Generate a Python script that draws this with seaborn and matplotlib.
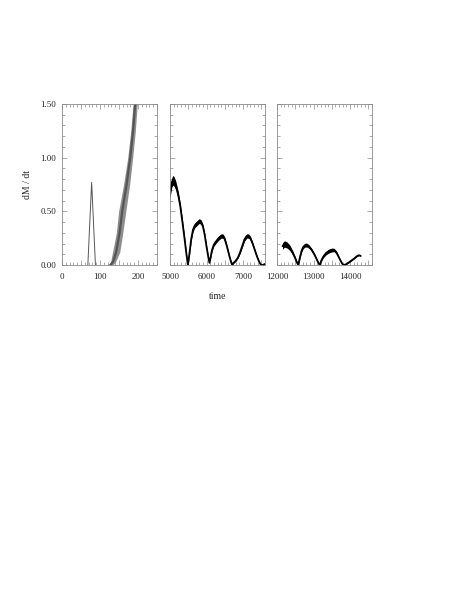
import matplotlib
matplotlib.use("Agg")
import matplotlib.pyplot as plt
from matplotlib.ticker import MultipleLocator, FuncFormatter
import seaborn as sns
import numpy as np

# panel 1: early spike and the steep rise (gray ensemble band)
spike_x = [68, 78, 88]
spike_y = [0.0, 0.77, 0.0]
rise_y = [0.0, 0.03, 0.12, 0.30, 0.50, 0.75, 1.00, 1.25, 1.50, 1.65]
rise_left = [121, 128, 133, 143, 149, 162, 173, 181, 187, 191]
rise_right = [134, 141, 152, 160, 168, 178, 186, 193, 198, 201]

# panel 2: 5000-7600
x2 = [5000, 5020, 5050, 5080, 5110, 5160, 5220, 5280, 5340, 5400, 5450, 5490,
      5530, 5580, 5630, 5680, 5740, 5800, 5850, 5900, 5950, 6000, 6050, 6080,
      6110, 6150, 6200, 6260, 6330, 6400, 6450, 6500, 6560, 6620, 6670, 6700,
      6740, 6800, 6860, 6920, 6980, 7040, 7100, 7150, 7200, 7260, 7320, 7380,
      7440, 7490, 7540, 7600]
y2 = [0.64, 0.72, 0.77, 0.79, 0.78, 0.74, 0.66, 0.55, 0.40, 0.24, 0.10, 0.0,
      0.10, 0.24, 0.33, 0.37, 0.39, 0.41, 0.40, 0.36, 0.28, 0.17, 0.07, 0.02,
      0.07, 0.14, 0.19, 0.22, 0.25, 0.27, 0.27, 0.24, 0.17, 0.09, 0.03, 0.0,
      0.02, 0.04, 0.07, 0.12, 0.18, 0.24, 0.27, 0.27, 0.25, 0.20, 0.14, 0.08,
      0.03, 0.0, 0.0, 0.01]
hw2 = [0.04, 0.045, 0.045, 0.045, 0.045, 0.04, 0.035, 0.03, 0.025, 0.02, 0.012, 0.008,
       0.012, 0.016, 0.02, 0.022, 0.022, 0.022, 0.022, 0.02, 0.018, 0.015, 0.01, 0.006,
       0.01, 0.014, 0.016, 0.018, 0.02, 0.02, 0.02, 0.018, 0.015, 0.01, 0.006, 0.004,
       0.005, 0.006, 0.008, 0.012, 0.015, 0.018, 0.02, 0.02, 0.018, 0.015, 0.012, 0.008,
       0.005, 0.004, 0.004, 0.004]

# panel 3: 12000-14600
x3 = [12150, 12180, 12220, 12280, 12350, 12420, 12490, 12550, 12580, 12620,
      12670, 12720, 12770, 12820, 12880, 12950, 13020, 13090, 13140, 13170,
      13210, 13270, 13340, 13420, 13500, 13560, 13620, 13680, 13740, 13790,
      13820, 13880, 13950, 14030, 14110, 14180, 14230, 14260, 14290]
y3 = [0.175, 0.19, 0.195, 0.185, 0.16, 0.12, 0.07, 0.02, 0.0, 0.06,
      0.13, 0.17, 0.185, 0.185, 0.17, 0.14, 0.10, 0.05, 0.015, 0.0,
      0.04, 0.08, 0.11, 0.13, 0.14, 0.14, 0.12, 0.08, 0.04, 0.01,
      0.0, 0.005, 0.02, 0.04, 0.06, 0.08, 0.09, 0.09, 0.085]
hw3 = [0.03, 0.03, 0.03, 0.028, 0.025, 0.02, 0.014, 0.008, 0.005, 0.01,
       0.014, 0.016, 0.018, 0.018, 0.016, 0.014, 0.012, 0.008, 0.006, 0.005,
       0.008, 0.012, 0.016, 0.018, 0.018, 0.016, 0.014, 0.01, 0.007, 0.005,
       0.004, 0.004, 0.004, 0.004, 0.004, 0.004, 0.004, 0.004, 0.004]

xlims = [(0, 250), (5000, 7600), (12000, 14600)]
xmajor = [50, 500, 500]
xminor = [10, 100, 100]
xlabel_step = [100, 1000, 1000]

sns.set_style("ticks")
plt.rcParams["font.family"] = ["Liberation Serif", "DejaVu Serif"]

fig = plt.figure(figsize=(4.57, 5.91), dpi=100)
W, H = 457.0, 591.0
lefts = [62, 170, 277]
axes = [fig.add_axes([l / W, 1 - 265 / H, 95 / W, 161 / H]) for l in lefts]

frame = "#8a8a8a"
for i, ax in enumerate(axes):
    ax.set_xlim(*xlims[i])
    ax.set_ylim(0, 1.5)
    ax.xaxis.set_major_locator(MultipleLocator(xmajor[i]))
    ax.xaxis.set_minor_locator(MultipleLocator(xminor[i]))
    ax.yaxis.set_major_locator(MultipleLocator(0.5))
    ax.yaxis.set_minor_locator(MultipleLocator(0.1))
    step = xlabel_step[i]
    ax.xaxis.set_major_formatter(FuncFormatter(
        lambda v, p, s=step: f"{v:.0f}" if abs(v / s - round(v / s)) < 1e-6 else ""))
    ax.yaxis.set_major_formatter(FuncFormatter(lambda v, p: f"{v:.2f}"))
    ax.tick_params(which="both", direction="in", top=True, right=True,
                   color=frame, width=0.5, labelsize=6.5)
    ax.tick_params(which="major", length=3.5)
    ax.tick_params(which="minor", length=2)
    ax.tick_params(axis="x", pad=5.5)
    ax.tick_params(axis="y", pad=4)
    for sp in ax.spines.values():
        sp.set_color(frame)
        sp.set_linewidth(0.6)
    if i > 0:
        ax.set_yticklabels([])

ax1, ax2, ax3 = axes

sns.lineplot(x=spike_x, y=spike_y, ax=ax1, color="#555555", lw=0.7, sort=False)
ax1.fill_betweenx(rise_y, rise_left, rise_right, color="#8e8e8e", lw=0)
rise_mid = (np.array(rise_left) + np.array(rise_right)) / 2
sns.lineplot(x=rise_mid, y=rise_y, ax=ax1, color="#555555", lw=1.6, sort=False)

for ax, xs, ys, hw in [(ax2, x2, y2, hw2), (ax3, x3, y3, hw3)]:
    xs_a = np.array(xs)
    ys_a = np.array(ys)
    hw_a = np.array(hw)
    ax.fill_between(xs_a, ys_a - hw_a, ys_a + hw_a, color="black", lw=0)
    sns.lineplot(x=xs, y=ys, ax=ax, color="black", lw=1.3, sort=False)

ax1.set_ylabel("dM / dt", fontsize=7, labelpad=6)
ax2.set_xlabel("time", fontsize=7, labelpad=8)
ax1.set_xlabel("")
ax3.set_xlabel("")

fig.savefig("out.png", dpi=100)
